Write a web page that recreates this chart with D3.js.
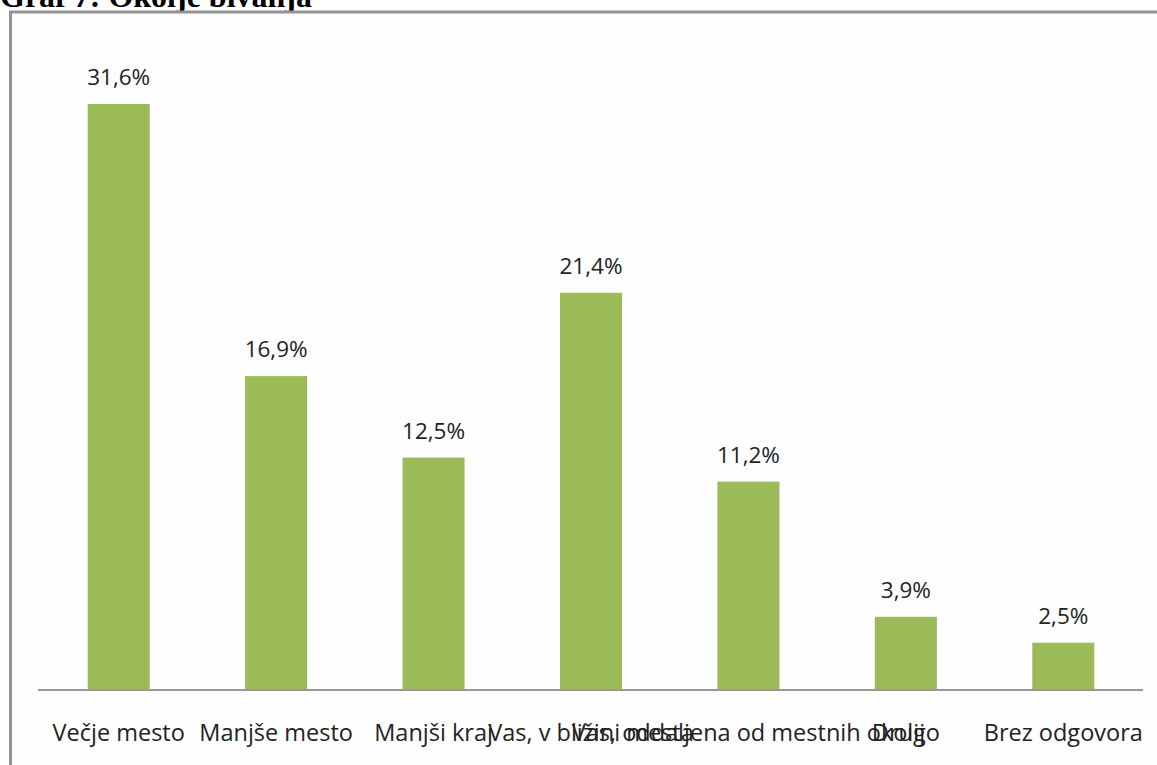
<!DOCTYPE html>
<html>
<head>
<meta charset="utf-8">
<script src="https://cdn.jsdelivr.net/npm/d3@7"></script>
<style>
  body { margin: 0; background: #fff; }
  svg { display: block; }
</style>
</head>
<body>
<svg id="chart" width="1157" height="765"></svg>
<script>
// Graf 7: Okolje bivanja
var title = 'Graf 7: Okolje bivanja';
var categories = ['Večje mesto', 'Manjše mesto', 'Manjši kraj', 'Vas, v bližini mesta',
    'Vas, oddaljena od mestnih okolij', 'Drugo', 'Brez odgovora'];
var values = [31.6, 16.9, 12.5, 21.4, 11.2, 3.9, 2.5];

var svg = d3.select('#chart');

var x = d3.scaleBand()
    .domain(categories)
    .range([40, 1142])
    .paddingInner(0.606)
    .paddingOuter(0.303);

var y = d3.scaleLinear()
    .domain([0, 35])
    .range([689, 41]);

var fmt = function (v) {
    return d3.format('.1f')(v).replace('.', ',') + '%';
};

// title, cut off by the page top
svg.append('text')
    .attr('x', 0)
    .attr('y', 7)
    .style('font-family', '"Liberation Serif", "Times New Roman", serif')
    .style('font-weight', 'bold')
    .style('font-size', '32px')
    .style('fill', '#000')
    .text(title);

// frame
svg.append('rect')
    .attr('x', 10.5)
    .attr('y', 12)
    .attr('width', 1300)
    .attr('height', 900)
    .style('fill', '#fefefe')
    .style('stroke', '#939393')
    .style('stroke-width', 3);

var bars = svg.append('g');

bars.selectAll('rect')
    .data(values)
    .enter()
    .append('rect')
    .attr('x', function (d, i) { return x(categories[i]); })
    .attr('y', function (d) { return y(d); })
    .attr('width', x.bandwidth())
    .attr('height', function (d) { return y(0) - y(d); })
    .style('fill', '#9bbb59');

bars.selectAll('text')
    .data(values)
    .enter()
    .append('text')
    .attr('x', function (d, i) { return x(categories[i]) + x.bandwidth() / 2; })
    .attr('y', function (d) { return y(d) - 19; })
    .attr('text-anchor', 'middle')
    .style('font-family', '"Open Sans", sans-serif')
    .style('font-size', '22.5px')
    .style('fill', '#222')
    .text(fmt);

// baseline
svg.append('line')
    .attr('x1', x.range()[0] - 2)
    .attr('x2', x.range()[1] + 1)
    .attr('y1', y(0) + 1)
    .attr('y2', y(0) + 1)
    .style('stroke', '#989898')
    .style('stroke-width', 2);

// category labels (they overlap in the original as well)
var xAxis = svg.append('g')
    .attr('transform', 'translate(0,' + y(0) + ')')
    .call(d3.axisBottom(x).tickSize(0).tickPadding(0));

xAxis.select('.domain').remove();
xAxis.selectAll('text')
    .attr('dy', null)
    .attr('y', 52)
    .style('font-family', '"Open Sans", sans-serif')
    .style('font-size', '23.5px')
    .style('fill', '#222');
</script>
</body>
</html>
